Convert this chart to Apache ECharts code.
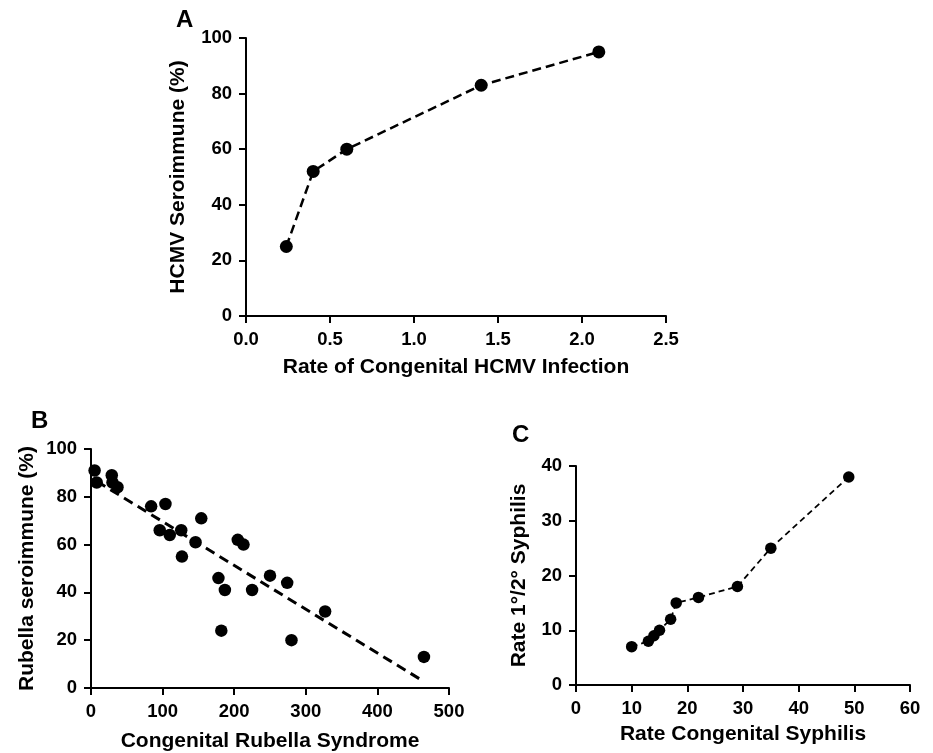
<!DOCTYPE html>
<html>
<head>
<meta charset="utf-8">
<script src="https://cdn.jsdelivr.net/npm/echarts@6/dist/echarts.min.js"></script>
<style>
  html, body { margin: 0; padding: 0; background: #fff; }
  #chart { width: 933px; height: 753px; }
</style>
</head>
<body>
<div id="chart"></div>
<script>
// panel A: HCMV
const hcmvRate = [0.24, 0.4, 0.6, 1.4, 2.1];
const hcmvSero = [25, 52, 60, 83, 95];

// panel B: rubella
const crsCases = [5, 8, 29, 30, 37, 84, 104, 96, 110, 126, 127, 146, 154, 178, 187, 182, 205, 213, 225, 250, 274, 280, 327, 465];
const rubellaSero = [91, 86, 89, 86, 84, 76, 77, 66, 64, 66, 55, 61, 71, 46, 41, 24, 62, 60, 41, 47, 44, 20, 32, 13];
const fitX = [8, 465];
const fitY = [86.5, 2.7];

// panel C: syphilis
const congSyph = [10, 13, 14, 15, 17, 18, 22, 29, 35, 49];
const primSyph = [7, 8, 9, 10, 12, 15, 16, 18, 25, 38];

const FONT = '"Liberation Sans", Arial, sans-serif';
const pair = (xs, ys) => xs.map((x, i) => [x, ys[i]]);

function xAx(idx, min, max, step, name, gap, fmt) {
    return {
        gridIndex: idx, type: 'value', min: min, max: max, interval: step,
        name: name, nameLocation: 'middle', nameGap: gap,
        nameTextStyle: { fontFamily: FONT, fontWeight: 'bold', fontSize: 21, color: '#000' },
        axisLine: { show: true, onZero: false, lineStyle: { color: '#000', width: 2 } },
        axisTick: { show: true, length: 7, lineStyle: { color: '#000', width: 2 } },
        axisLabel: { margin: 14, fontFamily: FONT, fontWeight: 'bold', fontSize: 18.5, color: '#000', formatter: fmt },
        splitLine: { show: false }
    };
}
function yAx(idx, min, max, step, name, gap) {
    return {
        gridIndex: idx, type: 'value', min: min, max: max, interval: step,
        name: name, nameLocation: 'middle', nameGap: gap, nameRotate: 90,
        nameTextStyle: { fontFamily: FONT, fontWeight: 'bold', fontSize: 21, color: '#000' },
        axisLine: { show: true, onZero: false, lineStyle: { color: '#000', width: 2 } },
        axisTick: { show: true, length: 7, lineStyle: { color: '#000', width: 2 } },
        axisLabel: { margin: 14, fontFamily: FONT, fontWeight: 'bold', fontSize: 18.5, color: '#000' },
        splitLine: { show: false }
    };
}

const chart = echarts.init(document.getElementById('chart'), null, { renderer: 'canvas' });
const option = {
    backgroundColor: '#fff',
    animation: false,
    grid: [
        { left: 246, top: 38, width: 420, height: 278, containLabel: false, outerBoundsMode: 'none' },
        { left: 91, top: 449, width: 358, height: 239, containLabel: false, outerBoundsMode: 'none' },
        { left: 576, top: 466, width: 334, height: 219, containLabel: false, outerBoundsMode: 'none' }
    ],
    xAxis: [
        xAx(0, 0, 2.5, 0.5, 'Rate of Congenital HCMV Infection', 41, v => v.toFixed(1)),
        xAx(1, 0, 500, 100, 'Congenital Rubella Syndrome', 43),
        xAx(2, 0, 60, 10, 'Rate Congenital Syphilis', 39)
    ],
    yAxis: [
        yAx(0, 0, 100, 20, 'HCMV Seroimmune (%)', 57),
        yAx(1, 0, 100, 20, 'Rubella seroimmune (%)', 53),
        yAx(2, 0, 40, 10, 'Rate 1°/2° Syphilis', 46)
    ],
    graphic: [
        { type: 'text', left: 176, top: 8, style: { text: 'A', font: 'bold 24px ' + FONT, fill: '#000' } },
        { type: 'text', left: 31, top: 409, style: { text: 'B', font: 'bold 24px ' + FONT, fill: '#000' } },
        { type: 'text', left: 512, top: 423, style: { text: 'C', font: 'bold 24px ' + FONT, fill: '#000' } }
    ],
    series: [
        {
            type: 'line', xAxisIndex: 0, yAxisIndex: 0,
            data: pair(hcmvRate, hcmvSero),
            symbol: 'circle', symbolSize: 13,
            itemStyle: { color: '#000' },
            lineStyle: { color: '#000', width: 2.5, type: [9, 5] }
        },
        {
            type: 'scatter', xAxisIndex: 1, yAxisIndex: 1,
            data: pair(crsCases, rubellaSero),
            symbol: 'circle', symbolSize: 12.5,
            itemStyle: { color: '#000', opacity: 1 }
        },
        {
            type: 'line', xAxisIndex: 1, yAxisIndex: 1,
            data: pair(fitX, fitY),
            showSymbol: false, symbol: 'none',
            lineStyle: { color: '#000', width: 3, type: [10, 6] }
        },
        {
            type: 'line', xAxisIndex: 2, yAxisIndex: 2,
            data: pair(congSyph, primSyph),
            symbol: 'circle', symbolSize: 11.5,
            itemStyle: { color: '#000' },
            lineStyle: { color: '#000', width: 1.8, type: [6, 4] }
        }
    ]
};
chart.setOption(option);
</script>
</body>
</html>
